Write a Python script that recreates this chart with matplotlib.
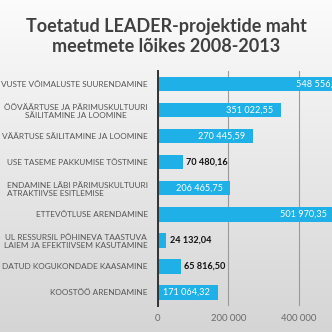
import numpy as np
import matplotlib
matplotlib.use("Agg")
import matplotlib.pyplot as plt

categories = [
    "VUSTE VÕIMALUSTE SUURENDAMINE",
    "ÖÖVÄÄRTUSE JA PÄRIMUSKULTUURI\nSÄILITAMINE JA LOOMINE",
    "VÄÄRTUSE SÄILITAMINE JA LOOMINE",
    "USE TASEME PAKKUMISE TÕSTMINE",
    "ENDAMINE LÄBI PÄRIMUSKULTUURI\nATRAKTIIVSE ESITLEMISE",
    "ETTEVÕTLUSE ARENDAMINE",
    "UL RESSURSIL PÕHINEVA TAASTUVA\nLAIEM JA EFEKTIIVSEM KASUTAMINE",
    "DATUD KOGUKONDADE KAASAMINE",
    "KOOSTÖÖ ARENDAMINE",
]
values = [548556.10, 351022.55, 270445.59, 70480.16, 206465.75,
          501970.35, 24132.04, 65816.50, 171064.32]
xticks = [0, 200000, 400000]
xticklabels = ["0", "200 000", "400 000"]
title = "Toetatud LEADER-projektide maht\nmeetmete lõikes 2008-2013"

BAR = "#1EB0E6"
FONT = ["Lato", "DejaVu Sans"]

fig = plt.figure(figsize=(3.32, 3.32), dpi=100)

# background gradient
bg = fig.add_axes([0, 0, 1, 1], zorder=-10)
grad = np.linspace(0, 1, 256).reshape(-1, 1)
top = np.array([0.985, 0.985, 0.985])
bot = np.array([0.835, 0.835, 0.835])
img = top[None, None, :] * (1 - grad[..., None]) + bot[None, None, :] * grad[..., None]
img = np.repeat(img, 2, axis=1)
bg.imshow(img, aspect="auto", extent=[0, 1, 0, 1], origin="upper")
bg.set_xlim(0, 1)
bg.set_ylim(0, 1)
bg.axis("off")

ax = fig.add_axes([157.7 / 332, 0.0798, 211.5 / 332, 0.706])
ax.patch.set_alpha(0)
y = np.arange(len(values))
ax.barh(y, values, height=0.55, color=BAR, zorder=3)
ax.set_ylim(len(values) - 0.5, -0.5)
ax.set_xlim(0, 600000)
ax.set_xticks(xticks)
ax.set_xticklabels(xticklabels, fontsize=6.8, color="#6a6a6a", family=FONT)
ax.set_yticks(y)
ax.set_yticklabels(categories, fontsize=5.95, color="#555555", family=FONT,
                   multialignment="center")
ax.get_yticklabels()[4].set_multialignment("left")
ax.tick_params(axis="both", length=0)
ax.tick_params(axis="y", pad=7)
ax.tick_params(axis="x", pad=6)
ax.grid(axis="x", color="#9a9a9a", linewidth=0.8, zorder=0)
for s in ["top", "right", "bottom"]:
    ax.spines[s].set_visible(False)
ax.spines["left"].set_color("#333333")
ax.spines["left"].set_linewidth(1.4)
ax.spines["left"].set_zorder(5)

for yi, v in zip(y, values):
    lab = f"{v:,.2f}".replace(",", " ").replace(".", ",")
    if v > 100000:
        ax.text(v - 22000, yi, lab, ha="right", va="center", color="white",
                fontsize=6.6, family=FONT, zorder=6)
    else:
        ax.text(v + 10000, yi, lab, ha="left", va="center", color="#111111",
                fontsize=6.6, fontweight="bold", family=FONT, zorder=6)

fig.text(0.5, 0.89, title, ha="center", va="center", fontsize=13,
         fontweight="bold", color="#404040", family=FONT, linespacing=1.25)

fig.savefig("out.png", dpi=100)
